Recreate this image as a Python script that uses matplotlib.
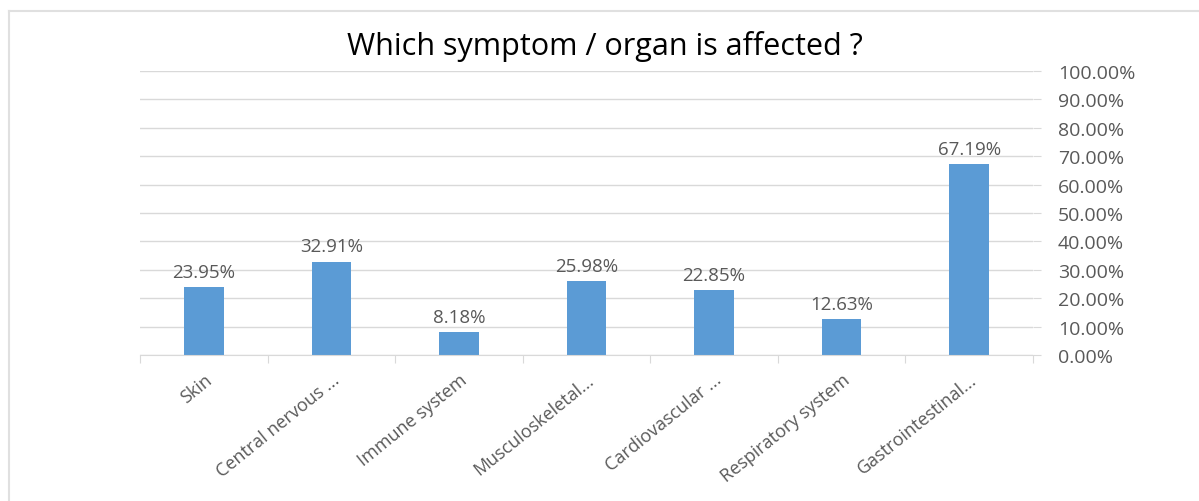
import matplotlib
matplotlib.use("Agg")
import matplotlib.pyplot as plt
from matplotlib.lines import Line2D
from matplotlib.ticker import FuncFormatter
import numpy as np

categories = ["Skin", "Central nervous ...", "Immune system", "Musculoskeletal...",
              "Cardiovascular ...", "Respiratory system", "Gastrointestinal..."]
values = [23.95, 32.91, 8.18, 25.98, 22.85, 12.63, 67.19]

bar_color = "#5B9BD5"
text_color = "#595959"
grid_color = "#D9D9D9"

plt.rcParams['font.family'] = ['Open Sans', 'DejaVu Sans']

fig = plt.figure(figsize=(11.99, 5.02), dpi=100)
ax = fig.add_axes([140 / 1199, 1 - 356 / 502, (1033 - 140) / 1199, (356 - 72) / 502])

x = np.arange(len(categories))
ax.bar(x, values, width=0.31, color=bar_color, zorder=2)
for xi, v in zip(x, values):
    ax.text(xi, v + 2.2, f"{v:.2f}%", ha='center', va='bottom', fontsize=13.5, color=text_color)

ax.set_xlim(-0.5, len(categories) - 0.5)
ax.set_ylim(0, 100)
ax.set_yticks(np.arange(0, 101, 10))
ax.yaxis.set_major_formatter(FuncFormatter(lambda v, p: f"{v:.2f}%"))
ax.yaxis.tick_right()
ax.tick_params(axis='y', length=6, color=grid_color, labelcolor=text_color, labelsize=14, pad=12)
ax.grid(axis='y', color=grid_color, linewidth=1, zorder=0)
ax.set_axisbelow(True)

# category boundary ticks
ax.set_xticks(np.arange(len(categories) + 1) - 0.5, minor=False)
ax.set_xticklabels([])
ax.tick_params(axis='x', length=6, color=grid_color, direction='out')
ax.set_xticks(x, minor=True)
ax.set_xticklabels(categories, minor=True, rotation=39, ha='right', rotation_mode='anchor',
                   fontsize=13, color=text_color)
ax.tick_params(axis='x', which='minor', length=0, pad=11)

for side in ['top', 'left', 'right']:
    ax.spines[side].set_visible(False)
ax.spines['bottom'].set_color(grid_color)

fig.text(605 / 1199, 1 - 46 / 502, "Which symptom / organ is affected ?", ha='center', va='center',
         fontsize=22, color='black')

# outer chart border
fig.add_artist(Line2D([9 / 1199, 1], [1 - 12 / 502, 1 - 12 / 502], color='#E0E0E0', linewidth=1.5))
fig.add_artist(Line2D([9 / 1199, 9 / 1199], [0, 1 - 12 / 502], color='#E0E0E0', linewidth=1.5))

fig.savefig("out.png", dpi=100)
